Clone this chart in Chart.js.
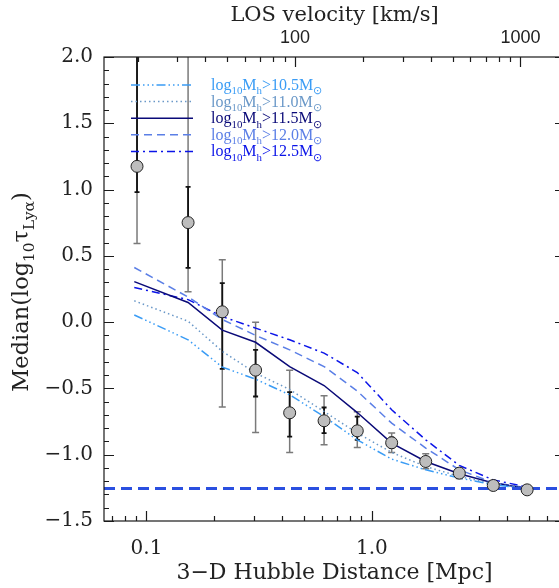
<!DOCTYPE html>
<html>
<head>
<meta charset="utf-8">
<script src="https://cdn.jsdelivr.net/npm/chart.js@4.4.1/dist/chart.umd.min.js"></script>
<style>
    html, body { margin: 0; padding: 0; background: #fff; overflow: hidden; }
    #wrap { width: 581px; height: 588px; }
    #tauChart { display: block; width: 581px; height: 588px; }
</style>
</head>
<body>
<div id="wrap"><canvas id="tauChart" width="581" height="588"></canvas></div>
<script>
// observed medians (circles) and their two error ranges
var distMpc   = [0.0908, 0.153, 0.217, 0.305, 0.432, 0.614, 0.862, 1.225, 1.735, 2.445, 3.46, 4.89];
var medianTau = [1.175, 0.751, 0.078, -0.362, -0.684, -0.744, -0.820, -0.910, -1.051, -1.139, -1.232, -1.265];
var innerLo   = [0.98, 0.41, -0.352, -0.561, -0.863, -0.837, -0.888, -0.95, -1.08, -1.16, -1.25, -1.28];
var innerHi   = [2.4, 1.02, 0.294, -0.209, -0.528, -0.644, -0.712, -0.87, -1.02, -1.12, -1.215, -1.25];
var outerLo   = [0.593, 0.23, -0.641, -0.833, -0.983, -0.925, -0.946, -0.983, -1.106, -1.18, -1.26, -1.29];
var outerHi   = [2.4, 2.4, 0.47, 0.0, -0.362, -0.556, -0.676, -0.837, -0.993, -1.10, -1.21, -1.24];

// simulated medians per halo mass threshold
var lineDistMpc = [0.0883, 0.153, 0.217, 0.305, 0.432, 0.614, 0.862, 1.225, 1.735, 2.445, 3.46, 4.89];
var massCuts = ['10.5', '11.0', '11.5', '12.0', '12.5'];
var tauMh105 = [0.054, -0.133, -0.339, -0.43, -0.548, -0.712, -0.888, -1.033, -1.114, -1.176, -1.227, -1.255];
var tauMh110 = [0.161, 0.007, -0.22, -0.385, -0.508, -0.674, -0.837, -0.983, -1.089, -1.164, -1.219, -1.255];
var tauMh115 = [0.306, 0.148, -0.06, -0.152, -0.335, -0.478, -0.682, -0.913, -1.051, -1.144, -1.214, -1.255];
var tauMh120 = [0.412, 0.19, 0.02, -0.1, -0.209, -0.335, -0.52, -0.762, -0.95, -1.114, -1.21, -1.25];
var tauMh125 = [0.261, 0.17, 0.042, -0.045, -0.133, -0.234, -0.38, -0.661, -0.888, -1.081, -1.19, -1.244];

var meanTauLevel = -1.255;
var xRange = [0.0648, 7.2];
var yRange = [-1.5, 2.0];
var hubbleKmsPerMpc = 219;
var bottomTickLabels = [0.1, 1];
var topTickLabels = [100, 1000];

(function () {
    var SERIF = '"DejaVu Serif", serif';
    var TIMES = '"Liberation Serif", serif';
    var SANS = '"Liberation Sans", Arial, sans-serif';
    var series = [tauMh105, tauMh110, tauMh115, tauMh120, tauMh125];
    var colors = ['#3a9cf5', '#6a98c8', '#0a0a78', '#5b7fe6', '#0b14e8'];
    var dashes = [[9, 3, 1.5, 3, 1.5, 3, 1.5, 3], [1.5, 3], [], [8, 5], [8, 4, 2, 4]];

    function toXY(xs, ys) {
        return xs.map(function (x, i) { return { x: x, y: ys[i] }; });
    }

    function isDecade(v) {
        var l = Math.log10(v);
        return Math.abs(l - Math.round(l)) < 1e-6;
    }

    function logTicks(min, max) {
        var out = [];
        for (var e = Math.floor(Math.log10(min)); e <= Math.ceil(Math.log10(max)); e++) {
            for (var m = 1; m < 10; m++) {
                var v = m * Math.pow(10, e);
                if (v >= min && v <= max) out.push({ v: v, major: m === 1 });
            }
        }
        return out;
    }

    function drawRich(ctx, parts, x, y, size, family) {
        parts.forEach(function (p) {
            var fs = p.sub ? size * 0.68 : size;
            ctx.font = fs + 'px ' + family;
            ctx.fillText(p.t, x, y + (p.sub ? size * 0.28 : 0));
            x += ctx.measureText(p.t).width;
        });
        return x;
    }

    function richWidth(ctx, parts, size, family) {
        var w = 0;
        parts.forEach(function (p) {
            ctx.font = (p.sub ? size * 0.68 : size) + 'px ' + family;
            w += ctx.measureText(p.t).width;
        });
        return w;
    }

    var errorBars = {
        id: 'errorBars',
        beforeDatasetsDraw: function (chart) {
            var ctx = chart.ctx, a = chart.chartArea;
            var xs = chart.scales.x, ys = chart.scales.y;
            ctx.save();
            ctx.beginPath();
            ctx.rect(a.left, a.top, a.right - a.left, a.bottom - a.top);
            ctx.clip();
            function bar(px, lo, hi, color, w, cap) {
                var y0 = ys.getPixelForValue(lo), y1 = ys.getPixelForValue(hi);
                ctx.strokeStyle = color;
                ctx.lineWidth = w;
                ctx.beginPath();
                ctx.moveTo(px, y0); ctx.lineTo(px, y1);
                ctx.moveTo(px - cap, y0); ctx.lineTo(px + cap, y0);
                ctx.moveTo(px - cap, y1); ctx.lineTo(px + cap, y1);
                ctx.stroke();
            }
            distMpc.forEach(function (d, i) {
                var px = xs.getPixelForValue(d);
                bar(px, outerLo[i], outerHi[i], '#7a7a7a', 1.5, 3.5);
                bar(px, innerLo[i], innerHi[i], '#111', 1.8, 2.5);
            });
            ctx.restore();
        }
    };

    var frameTicks = {
        id: 'frameTicks',
        afterDraw: function (chart) {
            var ctx = chart.ctx, a = chart.chartArea;
            var xs = chart.scales.x, xt = chart.scales.x2, ys = chart.scales.y;
            ctx.save();
            ctx.strokeStyle = '#1a1a1a';
            ctx.lineWidth = 1.2;
            ctx.strokeRect(a.left, a.top, a.right - a.left, a.bottom - a.top);
            ctx.beginPath();
            logTicks(xRange[0], xRange[1]).forEach(function (t) {
                var px = Math.round(xs.getPixelForValue(t.v)) + 0.5, len = t.major ? 10 : 5;
                ctx.moveTo(px, a.bottom); ctx.lineTo(px, a.bottom - len);
            });
            logTicks(xRange[0] * hubbleKmsPerMpc, xRange[1] * hubbleKmsPerMpc).forEach(function (t) {
                var px = Math.round(xt.getPixelForValue(t.v)) + 0.5, len = t.major ? 10 : 5;
                ctx.moveTo(px, a.top); ctx.lineTo(px, a.top + len);
            });
            for (var k = 0; k <= 35; k++) {
                var v = yRange[0] + k * 0.1;
                var py = Math.round(ys.getPixelForValue(v)) + 0.5, len = (k % 5 === 0) ? 10 : 5;
                ctx.moveTo(a.left, py); ctx.lineTo(a.left + len, py);
                ctx.moveTo(a.right, py); ctx.lineTo(a.right - len, py);
            }
            ctx.stroke();

            // legend
            var lx0 = 131, lx1 = 193, tx = 211, ly = 85, step = 16.6;
            massCuts.forEach(function (m, i) {
                var y = ly + i * step;
                ctx.strokeStyle = colors[i];
                ctx.lineWidth = 1.5;
                ctx.setLineDash(dashes[i]);
                ctx.beginPath();
                ctx.moveTo(lx0, y); ctx.lineTo(lx1, y);
                ctx.stroke();
                ctx.setLineDash([]);
                ctx.fillStyle = colors[i];
                ctx.textBaseline = 'alphabetic';
                ctx.textAlign = 'left';
                drawRich(ctx, [
                    { t: 'log' }, { t: '10', sub: true }, { t: 'M' }, { t: 'h', sub: true },
                    { t: '>' + m + 'M' }, { t: '\u2299', sub: true }
                ], tx, y + 5, 16, TIMES);
            });

            // y title
            var parts = [{ t: 'Median(log' }, { t: '10', sub: true }, { t: '\u03c4' }, { t: 'Ly\u03b1', sub: true }, { t: ')' }];
            ctx.translate(28, 292);
            ctx.rotate(-Math.PI / 2);
            ctx.fillStyle = '#222';
            var w = richWidth(ctx, parts, 22.5, SERIF);
            drawRich(ctx, parts, -w / 2, 0, 22.5, SERIF);
            ctx.restore();
        }
    };

    var datasets = series.map(function (s, i) {
        return {
            data: toXY(lineDistMpc, s),
            showLine: true,
            borderColor: colors[i],
            borderWidth: 1.5,
            borderDash: dashes[i],
            pointRadius: 0,
            order: 2
        };
    });
    datasets.push({
        data: toXY(xRange, [meanTauLevel, meanTauLevel]),
        showLine: true,
        borderColor: '#2a4fe0',
        borderWidth: 3,
        borderDash: [11, 6],
        pointRadius: 0,
        order: 1
    });
    datasets.push({
        data: toXY(distMpc, medianTau),
        showLine: false,
        pointRadius: 6,
        pointBackgroundColor: '#bdbdbd',
        pointBorderColor: '#222',
        pointBorderWidth: 1,
        order: 0
    });

    new Chart(document.getElementById('tauChart'), {
        type: 'scatter',
        data: { datasets: datasets },
        plugins: [errorBars, frameTicks],
        options: {
            responsive: false,
            animation: false,
            devicePixelRatio: 1,
            layout: { padding: { left: 0, right: 5, top: 0, bottom: 0 } },
            plugins: { legend: { display: false }, tooltip: { enabled: false } },
            scales: {
                x: {
                    type: 'logarithmic', position: 'bottom',
                    min: xRange[0], max: xRange[1],
                    grid: { display: false, drawTicks: false },
                    border: { display: false },
                    afterFit: function (s) { s.height = 67; },
                    ticks: {
                        autoSkip: false, maxRotation: 0, padding: 16, color: '#222',
                        font: { family: SERIF, size: 20 },
                        callback: function (v) {
                            if (!isDecade(v)) return '';
                            for (var i = 0; i < bottomTickLabels.length; i++) {
                                if (Math.abs(v - bottomTickLabels[i]) < 1e-9) return v.toFixed(1);
                            }
                            return '';
                        }
                    },
                    title: {
                        display: true, text: '3\u2212D Hubble Distance [Mpc]', color: '#222',
                        font: { family: SERIF, size: 22 }, padding: { top: 0, bottom: 2 }
                    }
                },
                x2: {
                    type: 'logarithmic', position: 'top',
                    min: xRange[0] * hubbleKmsPerMpc, max: xRange[1] * hubbleKmsPerMpc,
                    grid: { display: false, drawTicks: false },
                    border: { display: false },
                    afterFit: function (s) { s.height = 57; },
                    ticks: {
                        autoSkip: false, maxRotation: 0, padding: 8, color: '#222',
                        font: { family: SANS, size: 18 },
                        callback: function (v) {
                            for (var i = 0; i < topTickLabels.length; i++) {
                                if (Math.abs(v - topTickLabels[i]) < 1e-6) return String(topTickLabels[i]);
                            }
                            return '';
                        }
                    },
                    title: {
                        display: true, text: 'LOS velocity [km/s]', color: '#222',
                        font: { family: SERIF, size: 21 }, padding: { top: 3, bottom: 0 }
                    }
                },
                y: {
                    type: 'linear', min: yRange[0], max: yRange[1],
                    grid: { display: false, drawTicks: false },
                    border: { display: false },
                    afterFit: function (s) { s.width = 104; },
                    ticks: {
                        stepSize: 0.5, padding: 11, color: '#222',
                        font: { family: SERIF, size: 20 },
                        callback: function (v) { return v.toFixed(1).replace('-', '\u2212'); }
                    }
                }
            }
        }
    });
})();
</script>
</body>
</html>
